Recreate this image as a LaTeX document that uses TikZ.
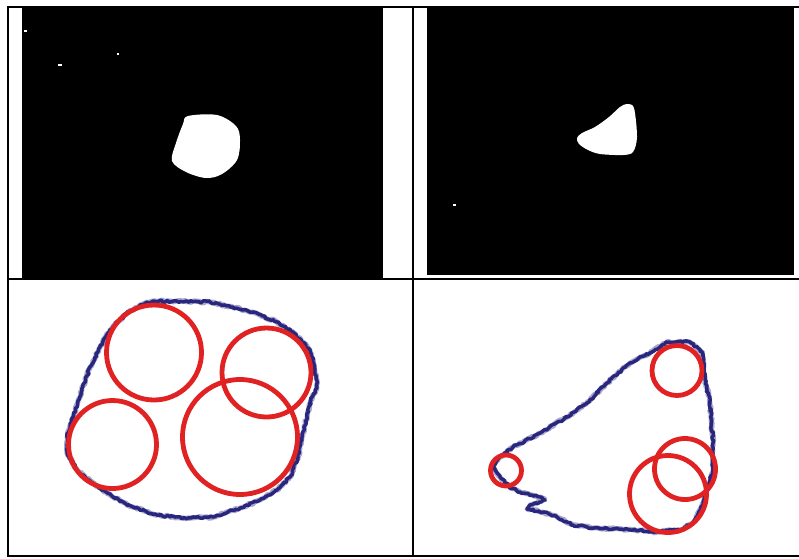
\documentclass[tikz,border=0pt]{standalone}
\usepackage{tikz}
\usetikzlibrary{decorations.pathmorphing}
\definecolor{myblue}{RGB}{40,38,125}
\definecolor{myred}{RGB}{224,34,34}
\tikzset{
  rough/.style={line width=3.5pt, line join=round, decorate,
    decoration={random steps, segment length=2pt, amplitude=1.1pt}},
  ring/.style={myred, line width=4.8pt}
}

\begin{document}
\begin{tikzpicture}[x=1pt,y=-1pt]
  \pgfmathsetseed{7}
  \useasboundingbox (0,0) rectangle (799,558);
  % top left: mask of the round blob
  \begin{scope}
    \fill[black] (22,7) rectangle (383,278);
    \fill[white] plot[smooth cycle, tension=0.55] coordinates {(188,116) (217,115) (236,126) (240,140) (237,160) (222,174) (206,178) (186,172) (172,161) (176,143) (183,124)};
    \fill[white] (24,30) rectangle (27,32);
    \fill[white] (58,64) rectangle (62,66);
    \fill[white] (117,53) rectangle (119,55);
  \end{scope}
  % top right: mask of the triangular blob
  \begin{scope}
    \fill[black] (427,7) rectangle (794,275);
    \fill[white] plot[smooth cycle, tension=0.5] coordinates {(627,104) (634,108) (637,137) (633,152) (623,155) (600,154) (588,150) (579,144) (577,138) (582,133) (595,127) (609,117) (620,107)};
    \fill[white] (453,204) rectangle (456,206);
  \end{scope}
  % bottom left: contour with four circles
  \begin{scope}
    \draw[rough, myblue!40, line width=5pt] plot coordinates {(153,301) (210,302) (227,306) (253,312) (277,322) (293,332) (310,350) (315,370) (317,387) (312,397) (307,417) (302,437) (298,457) (290,477) (277,490) (260,500) (240,508) (213,517) (183,518) (157,515) (133,507) (113,497) (93,483) (77,470) (67,453) (67,437) (73,417) (82,390) (90,367) (100,347) (110,330) (127,313) (140,305)} -- cycle;
    \draw[rough, myblue] plot coordinates {(153,301) (210,302) (227,306) (253,312) (277,322) (293,332) (310,350) (315,370) (317,387) (312,397) (307,417) (302,437) (298,457) (290,477) (277,490) (260,500) (240,508) (213,517) (183,518) (157,515) (133,507) (113,497) (93,483) (77,470) (67,453) (67,437) (73,417) (82,390) (90,367) (100,347) (110,330) (127,313) (140,305)} -- cycle;
    \draw[ring] (154,352.5) circle (47.5pt);
    \draw[ring] (266.5,372.5) circle (44.5pt);
    \draw[ring] (240,437) circle (57.5pt);
    \draw[ring] (112.5,444.5) circle (44pt);
  \end{scope}
  % bottom right: contour with four circles
  \begin{scope}
    \draw[rough, myblue!40, line width=5pt] plot coordinates {(667,342) (690,342) (702,352) (705,380) (710,403) (713,443) (713,470) (708,487) (703,503) (693,523) (680,530) (653,532) (640,530) (593,528) (573,525) (557,517) (543,512) (527,509) (530,505) (545,500) (540,497) (520,492) (510,487) (500,477) (493,467) (500,457) (513,447) (540,433) (567,417) (587,403) (607,383) (630,363) (650,353) (662,345)} -- cycle;
    \draw[rough, myblue] plot coordinates {(667,342) (690,342) (702,352) (705,380) (710,403) (713,443) (713,470) (708,487) (703,503) (693,523) (680,530) (653,532) (640,530) (593,528) (573,525) (557,517) (543,512) (527,509) (530,505) (545,500) (540,497) (520,492) (510,487) (500,477) (493,467) (500,457) (513,447) (540,433) (567,417) (587,403) (607,383) (630,363) (650,353) (662,345)} -- cycle;
    \draw[ring] (677,370.5) circle (25pt);
    \draw[ring] (506,470.5) circle (15.5pt);
    \draw[ring] (685,469) circle (30.5pt);
    \draw[ring] (668,494) circle (38.5pt);
  \end{scope}
  % table rules
  \draw[line width=2pt] (7,6.5) -- (799,6.5);
  \draw[line width=2pt] (8,5.5) -- (8,556.5);
  \draw[line width=2pt] (7,555.5) -- (799,555.5);
  \draw[line width=2pt] (413,5.5) -- (413,556.5);
  \draw[line width=2pt] (7,278.5) -- (799,278.5);
\end{tikzpicture}
\end{document}
